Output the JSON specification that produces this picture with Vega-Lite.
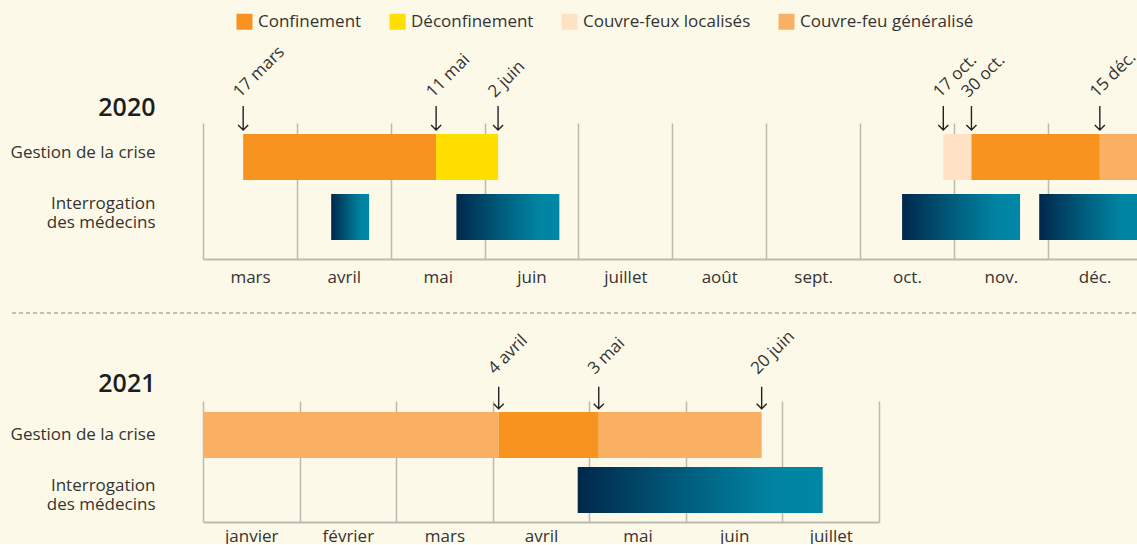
{
  "$schema": "https://vega.github.io/schema/vega-lite/v6.json",
  "background": "#FDF9E8",
  "autosize": {"type": "pad"},
  "padding": {"left": 10, "right": 0, "top": 13, "bottom": 0},
  "config": {
    "font": "Open Sans",
    "view": {"stroke": null},
    "axis": {"labelFont": "Open Sans", "labelFontSize": 17, "labelColor": "#333333", "ticks": false, "tickSize": 0, "domain": false, "grid": false},
    "legend": {"labelFont": "Open Sans"}
  },
  "datasets": {
    "crise2020": [
      {"ligne": "Gestion de la crise", "statut": "Confinement", "debut": 3.428, "fin": 5.484},
      {"ligne": "Gestion de la crise", "statut": "Déconfinement", "debut": 5.484, "fin": 6.144},
      {"ligne": "Gestion de la crise", "statut": "Couvre-feux localisés", "debut": 10.888, "fin": 11.188},
      {"ligne": "Gestion de la crise", "statut": "Confinement", "debut": 11.188, "fin": 12.556},
      {"ligne": "Gestion de la crise", "statut": "Couvre-feu généralisé", "debut": 12.556, "fin": 13}
    ],
    "medecins2020": [
      {"ligne": "Interrogation|des médecins", "debut": 4.366, "fin": 4.77},
      {"ligne": "Interrogation|des médecins", "debut": 5.7, "fin": 6.797},
      {"ligne": "Interrogation|des médecins", "debut": 10.449, "fin": 11.706},
      {"ligne": "Interrogation|des médecins", "debut": 11.91, "fin": 13}
    ],
    "dates2020": [
      {"ligne": "Gestion de la crise", "date": "17 mars", "debut": 3.428},
      {"ligne": "Gestion de la crise", "date": "11 mai", "debut": 5.484},
      {"ligne": "Gestion de la crise", "date": "2 juin", "debut": 6.144},
      {"ligne": "Gestion de la crise", "date": "17 oct.", "debut": 10.888},
      {"ligne": "Gestion de la crise", "date": "30 oct.", "debut": 11.188},
      {"ligne": "Gestion de la crise", "date": "15 déc.", "debut": 12.556}
    ],
    "crise2021": [
      {"ligne": "Gestion de la crise", "statut": "Couvre-feu généralisé", "debut": 1, "fin": 4.062},
      {"ligne": "Gestion de la crise", "statut": "Confinement", "debut": 4.062, "fin": 5.098},
      {"ligne": "Gestion de la crise", "statut": "Couvre-feu généralisé", "debut": 5.098, "fin": 6.785}
    ],
    "medecins2021": [
      {"ligne": "Interrogation|des médecins", "debut": 4.88, "fin": 7.417}
    ],
    "dates2021": [
      {"ligne": "Gestion de la crise", "date": "4 avril", "debut": 4.062},
      {"ligne": "Gestion de la crise", "date": "3 mai", "debut": 5.098},
      {"ligne": "Gestion de la crise", "date": "20 juin", "debut": 6.785}
    ],
    "separateur": [
      {"debut": -0.2045, "fin": 1, "niveau": 0}
    ]
  },
  "columns": 1,
  "align": "none",
  "spacing": 13,
  "resolve": {"scale": {"color": "independent"}, "legend": {"color": "independent"}},
  "concat": [
    {
      "width": 934,
      "height": 136,
      "encoding": {
        "x": {
          "field": "debut", "type": "quantitative",
          "scale": {"domain": [3, 12.952], "nice": false, "zero": false},
          "axis": {
            "title": null, "values": [3, 4, 5, 6, 7, 8, 9, 10, 11, 12],
            "grid": true, "gridColor": "#BDBAB2", "gridWidth": 1.5,
            "domain": true, "domainColor": "#BDBAB2", "domainWidth": 2,
            "labelOffset": 47, "labelPadding": 10, "labelFlush": false, "labelOverlap": false, "labelBound": false,
            "labelExpr": "['', 'janvier', 'février', 'mars', 'avril', 'mai', 'juin', 'juillet', 'août', 'sept.', 'oct.', 'nov.', 'déc.', ''][datum.value]"
          }
        },
        "y": {
          "field": "ligne", "type": "nominal",
          "scale": {"domain": ["Gestion de la crise", "Interrogation|des médecins"], "paddingInner": 0.2333, "paddingOuter": 0.25, "align": 0.3667},
          "axis": {
            "title": "2020", "titleAngle": 0, "titleAlign": "right", "titleBaseline": "alphabetic",
            "titleX": -48, "titleY": -8, "titleFont": "Open Sans", "titleFontSize": 25, "titleFontWeight": 600, "titleColor": "#1E1E1E",
            "labelPadding": 48, "labelLineHeight": 19, "labelExpr": "split(datum.label, '|')",
            "labelOffset": {"condition": {"test": "indexof(datum.value, '|') >= 0", "value": -13}, "value": -4}
          }
        }
      },
      "layer": [
        {
          "data": {"name": "crise2020"},
          "mark": {"type": "bar", "clip": true},
          "encoding": {
            "x2": {"field": "fin"},
            "color": {
              "field": "statut", "type": "nominal",
              "scale": {"domain": ["Confinement", "Déconfinement", "Couvre-feux localisés", "Couvre-feu généralisé"], "range": ["#F7931E", "#FFDE00", "#FFE2C4", "#F9B063"]},
              "legend": {
                "orient": "none", "legendX": 33, "legendY": -110, "direction": "horizontal", "title": null,
                "symbolType": "square", "symbolSize": 256, "symbolStrokeWidth": 0, "symbolOpacity": 1,
                "labelFontSize": 17, "labelColor": "#333333", "labelOffset": 5, "labelLimit": 400, "columnPadding": 27, "padding": 0
              }
            }
          }
        },
        {
          "data": {"name": "medecins2020"},
          "mark": {
            "type": "bar", "clip": true,
            "color": {"gradient": "linear", "x1": 0, "y1": 0, "x2": 1, "y2": 0,
              "stops": [{"offset": 0, "color": "#00284A"}, {"offset": 0.45, "color": "#005E7E"}, {"offset": 0.8, "color": "#0084A2"}, {"offset": 1, "color": "#0087A5"}]}
          },
          "encoding": {"x2": {"field": "fin"}}
        },
        {
          "data": {"name": "dates2020"},
          "mark": {"type": "point", "shape": "M0,-2.33L0,-0.33M-0.42,-0.75L0,-0.33L0.42,-0.75", "size": 576, "filled": false, "opacity": 1, "color": "#222222", "strokeWidth": 1.4},
          "encoding": {"y": {"field": "ligne", "type": "nominal", "bandPosition": 0}}
        },
        {
          "data": {"name": "dates2020"},
          "mark": {"type": "text", "angle": -45, "align": "left", "baseline": "alphabetic", "dx": 23, "dy": -27.5, "fontSize": 17, "color": "#333333"},
          "encoding": {"y": {"field": "ligne", "type": "nominal", "bandPosition": 0}, "text": {"field": "date"}}
        }
      ]
    },
    {
      "width": 934,
      "height": 15,
      "data": {"name": "separateur"},
      "mark": {"type": "rule", "color": "#AAAAAA", "strokeWidth": 1.5, "strokeDash": [4, 3], "clip": false},
      "encoding": {
        "x": {"field": "debut", "type": "quantitative", "scale": {"domain": [0, 1], "nice": false, "zero": false}, "axis": null},
        "x2": {"field": "fin"},
        "y": {"field": "niveau", "type": "quantitative", "scale": {"domain": [0, 1]}, "axis": null}
      }
    },
    {
      "width": 676,
      "height": 121,
      "encoding": {
        "x": {
          "field": "debut", "type": "quantitative",
          "scale": {"domain": [1, 8], "nice": false, "zero": false},
          "axis": {
            "title": null, "values": [1, 2, 3, 4, 5, 6, 7, 8],
            "grid": true, "gridColor": "#BDBAB2", "gridWidth": 1.5,
            "domain": true, "domainColor": "#BDBAB2", "domainWidth": 2,
            "labelOffset": 48.3, "labelPadding": 6, "labelFlush": false, "labelOverlap": false, "labelBound": false,
            "labelExpr": "datum.value < 8 ? ['', 'janvier', 'février', 'mars', 'avril', 'mai', 'juin', 'juillet'][datum.value] : ''"
          }
        },
        "y": {
          "field": "ligne", "type": "nominal",
          "scale": {"domain": ["Gestion de la crise", "Interrogation|des médecins"], "paddingInner": 0.1636, "paddingOuter": 0.1818, "align": 0.55},
          "axis": {
            "title": "2021", "titleAngle": 0, "titleAlign": "right", "titleBaseline": "alphabetic",
            "titleX": -48, "titleY": -10, "titleFont": "Open Sans", "titleFontSize": 25, "titleFontWeight": 600, "titleColor": "#1E1E1E",
            "labelPadding": 48, "labelLineHeight": 19, "labelExpr": "split(datum.label, '|')",
            "labelOffset": {"condition": {"test": "indexof(datum.value, '|') >= 0", "value": -4}, "value": 0}
          }
        }
      },
      "layer": [
        {
          "data": {"name": "crise2021"},
          "mark": {"type": "bar", "clip": true},
          "encoding": {
            "x2": {"field": "fin"},
            "color": {
              "field": "statut", "type": "nominal",
              "scale": {"domain": ["Confinement", "Déconfinement", "Couvre-feux localisés", "Couvre-feu généralisé"], "range": ["#F7931E", "#FFDE00", "#FFE2C4", "#F9B063"]},
              "legend": null
            }
          }
        },
        {
          "data": {"name": "medecins2021"},
          "mark": {
            "type": "bar", "clip": true,
            "color": {"gradient": "linear", "x1": 0, "y1": 0, "x2": 1, "y2": 0,
              "stops": [{"offset": 0, "color": "#00284A"}, {"offset": 0.45, "color": "#005E7E"}, {"offset": 0.8, "color": "#0084A2"}, {"offset": 1, "color": "#0087A5"}]}
          },
          "encoding": {"x2": {"field": "fin"}}
        },
        {
          "data": {"name": "dates2021"},
          "mark": {"type": "point", "shape": "M0,-2.1L0,-0.27M-0.42,-0.69L0,-0.27L0.42,-0.69", "size": 576, "filled": false, "opacity": 1, "color": "#222222", "strokeWidth": 1.4},
          "encoding": {"y": {"field": "ligne", "type": "nominal", "bandPosition": 0}}
        },
        {
          "data": {"name": "dates2021"},
          "mark": {"type": "text", "angle": -45, "align": "left", "baseline": "alphabetic", "dx": 23.3, "dy": -29, "fontSize": 17, "color": "#333333"},
          "encoding": {"y": {"field": "ligne", "type": "nominal", "bandPosition": 0}, "text": {"field": "date"}}
        }
      ]
    }
  ]
}
